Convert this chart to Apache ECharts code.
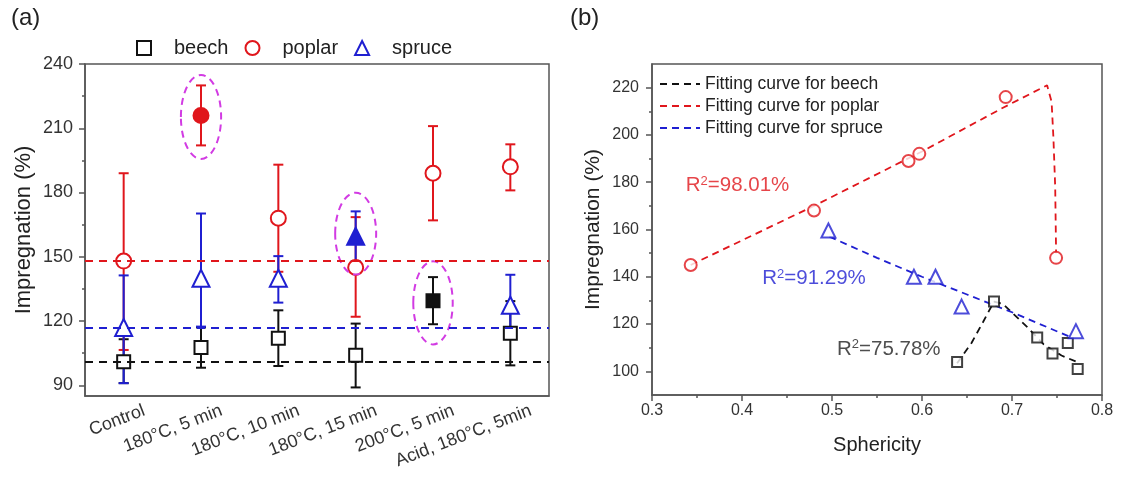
<!DOCTYPE html>
<html>
<head>
<meta charset="utf-8">
<script src="https://cdn.jsdelivr.net/npm/echarts@6/dist/echarts.min.js"></script>
<style>
html, body { margin: 0; padding: 0; background: #fff; }
#chart { width: 1121px; height: 477px; }
</style>
</head>
<body>
<div id="chart"></div>
<script>
// (a) impregnation per treatment
var treatments = ["Control", "180°C, 5 min", "180°C, 10 min", "180°C, 15 min", "200°C, 5 min", "Acid, 180°C, 5min"];
var beechMean = [101, 107.6, 112, 104, 129.5, 114.3];
var beechLow = [91, 98.2, 99, 89, 118.5, 99.3];
var beechHigh = [111.5, 117, 125, 118.8, 140.5, 129.3];
var poplarMean = [148, 216, 168, 145, 189, 192];
var poplarLow = [106.5, 202, 143, 122, 167, 181];
var poplarHigh = [189, 230, 193, 168.5, 211, 202.5];
var spruceMean = [117, 140, 140, 159.6, null, 127.4];
var spruceLow = [91, 117.4, 128.6, 148, null, 113.2];
var spruceHigh = [141.3, 170.2, 150.3, 171.2, null, 141.6];
// highlighted (filled) points
var beechFilled = 4, poplarFilled = 1, spruceFilled = 3;
// ellipses: [category, centre value, half width (bands), half height (%)]
var rings = [[1, 215.3, 0.26, 19.6], [2.98, 160.8, 0.265, 19.1], [4, 128.5, 0.255, 19.4]];
var leftMajor = [90, 120, 150, 180, 210, 240];
var leftMinor = [105, 135, 165, 195, 225];

// (b) impregnation vs sphericity
var beechSph = [0.773, 0.745, 0.762, 0.639, 0.680, 0.728];
var poplarSph = [0.749, 0.693, 0.480, 0.343, 0.585, 0.597];
var spruceSph = [0.771, 0.591, 0.615, 0.496, null, 0.644];
var beechFit = [[0.639, 103.4], [0.655, 112], [0.668, 121], [0.68, 129.5], [0.69, 128.5], [0.717, 118.7], [0.735, 111.5], [0.755, 106.7], [0.772, 104]];
var poplarFit = [[0.343, 145], [0.48, 170], [0.6, 193], [0.69, 211.5], [0.739, 221], [0.744, 214], [0.746, 199], [0.748, 178], [0.749, 150]];
var spruceFit = [[0.497, 157], [0.55, 148], [0.6, 140], [0.65, 132.5], [0.7, 125], [0.765, 114.5]];
var rightMajor = [100, 120, 140, 160, 180, 200, 220];
var rightMinor = [110, 130, 150, 170, 190, 210];
var r2Labels = [
  { text: "98.01%", at: [0.337, 178.7], color: "#e0161c" },
  { text: "91.29%", at: [0.422, 139.2], color: "#1f1fd1" },
  { text: "75.78%", at: [0.505, 109.5], color: "#222" }
];

var RED = "#e0161c", BLUE = "#1f1fd1", BLACK = "#111";
var AXIS = "#555";
var FONT = "Liberation Sans, Arial, sans-serif";

var myChart = echarts.init(document.getElementById("chart"));

function errData(low, high) {
  var out = [];
  low.forEach(function (v, i) {
    if (v == null) return;
    out.push([i, v, high[i]]);
  });
  return out;
}

function pts(mean, filled, color) {
  var out = [];
  mean.forEach(function (v, i) {
    if (v == null) return;
    var d = { value: [i, v] };
    if (i === filled) d.itemStyle = { color: color };
    out.push(d);
  });
  return out;
}

function sphPts(sph, mean) {
  var out = [];
  sph.forEach(function (x, i) {
    if (x == null) return;
    out.push([x, mean[i]]);
  });
  return out;
}

function errorBar(color) {
  return function (params, api) {
    var lo = api.coord([api.value(0), api.value(1)]);
    var hi = api.coord([api.value(0), api.value(2)]);
    var w = 5;
    var st = { stroke: color, lineWidth: 2 };
    return {
      type: "group",
      children: [
        { type: "line", shape: { x1: hi[0], y1: hi[1], x2: lo[0], y2: lo[1] }, style: st },
        { type: "line", shape: { x1: hi[0] - w, y1: hi[1], x2: hi[0] + w, y2: hi[1] }, style: st },
        { type: "line", shape: { x1: lo[0] - w, y1: lo[1], x2: lo[0] + w, y2: lo[1] }, style: st }
      ]
    };
  };
}

function errSeries(name, low, high, color) {
  return {
    name: name,
    type: "custom",
    xAxisIndex: 0,
    yAxisIndex: 0,
    renderItem: errorBar(color),
    encode: { x: 0, y: [1, 2] },
    data: errData(low, high),
    silent: true,
    z: 2
  };
}

function markerSeries(name, symbol, size, data, color, meanLine) {
  var s = {
    name: name,
    type: "scatter",
    xAxisIndex: 0,
    yAxisIndex: 0,
    symbol: symbol,
    symbolSize: size,
    itemStyle: { color: "#fff", borderColor: color, borderWidth: 2, opacity: 1 },
    data: data,
    z: 3
  };
  if (meanLine != null) {
    s.markLine = {
      silent: true,
      symbol: "none",
      label: { show: false },
      lineStyle: { color: color, type: [8, 6], width: 2 },
      data: [{ yAxis: meanLine }]
    };
  }
  return s;
}

var series = [
  errSeries("beech-err", beechLow, beechHigh, BLACK),
  markerSeries("beech", "rect", 13, pts(beechMean, beechFilled, BLACK), BLACK, beechMean[0]),
  errSeries("poplar-err", poplarLow, poplarHigh, RED),
  markerSeries("poplar", "circle", 15, pts(poplarMean, poplarFilled, RED), RED, poplarMean[0]),
  errSeries("spruce-err", spruceLow, spruceHigh, BLUE),
  markerSeries("spruce", "triangle", 17, pts(spruceMean, spruceFilled, BLUE), BLUE, spruceMean[0]),
  {
    name: "rings",
    type: "custom",
    xAxisIndex: 0,
    yAxisIndex: 0,
    silent: true,
    z: 4,
    encode: { x: 0, y: 1 },
    data: rings,
    renderItem: function (params, api) {
      var c = api.coord([api.value(0), api.value(1)]);
      var bw = api.size([1, 0])[0];
      var ry = api.size([0, api.value(3)])[1];
      return {
        type: "ellipse",
        shape: { cx: c[0], cy: c[1], rx: bw * api.value(2), ry: ry },
        style: { fill: "none", stroke: "#d23be3", lineWidth: 2, lineDash: [7, 5] }
      };
    }
  },
  // (b)
  {
    name: "Fitting curve for beech", type: "line", xAxisIndex: 1, yAxisIndex: 2,
    symbol: "none", data: beechFit, lineStyle: { color: BLACK, type: [7, 5], width: 1.8 }, itemStyle: { color: BLACK }, z: 2
  },
  {
    name: "Fitting curve for poplar", type: "line", xAxisIndex: 1, yAxisIndex: 2,
    symbol: "none", data: poplarFit, lineStyle: { color: RED, type: [7, 5], width: 1.8 }, itemStyle: { color: RED }, z: 2
  },
  {
    name: "Fitting curve for spruce", type: "line", xAxisIndex: 1, yAxisIndex: 2,
    symbol: "none", data: spruceFit, lineStyle: { color: BLUE, type: [7, 5], width: 1.8 }, itemStyle: { color: BLUE }, z: 2
  },
  {
    name: "beech-b", type: "scatter", xAxisIndex: 1, yAxisIndex: 2, symbol: "rect", symbolSize: 10,
    itemStyle: { color: "#fff", borderColor: BLACK, borderWidth: 2 }, data: sphPts(beechSph, beechMean), z: 3
  },
  {
    name: "poplar-b", type: "scatter", xAxisIndex: 1, yAxisIndex: 2, symbol: "circle", symbolSize: 12,
    itemStyle: { color: "#fff", borderColor: RED, borderWidth: 2 }, data: sphPts(poplarSph, poplarMean), z: 3
  },
  {
    name: "spruce-b", type: "scatter", xAxisIndex: 1, yAxisIndex: 2, symbol: "triangle", symbolSize: 14,
    itemStyle: { color: "#fff", borderColor: BLUE, borderWidth: 2 }, data: sphPts(spruceSph, spruceMean), z: 3
  }
];

r2Labels.forEach(function (r) {
  series.push({
    name: "r2-" + r.text, type: "scatter", xAxisIndex: 1, yAxisIndex: 2,
    symbolSize: 1, itemStyle: { color: "rgba(0,0,0,0)" }, silent: true, z: 5,
    data: [r.at],
    label: {
      show: true, position: "right", distance: 0,
      formatter: "{r|R}{s|2}{r|=" + r.text + "}",
      rich: {
        r: { fontSize: 20.5, color: r.color, fontFamily: FONT },
        s: { fontSize: 13, color: r.color, fontFamily: FONT, lineHeight: 10, verticalAlign: "top" }
      }
    }
  });
});

var tickLabel = { color: "#333", fontSize: 16, fontFamily: FONT };
var tickLabelA = { color: "#333", fontSize: 18, fontFamily: FONT };

var option = {
  animation: false,
  textStyle: { fontFamily: FONT },
  title: [
    { text: "(a)", left: 6, top: 1, textStyle: { fontSize: 24, fontWeight: "normal", color: "#222", fontFamily: FONT } },
    { text: "(b)", left: 565, top: 1, textStyle: { fontSize: 24, fontWeight: "normal", color: "#222", fontFamily: FONT } }
  ],
  legend: [
    {
      data: [{ name: "beech", icon: "rect" }, { name: "poplar", icon: "circle" }, { name: "spruce", icon: "triangle" }],
      left: 131, top: 33, itemWidth: 14, itemHeight: 14, itemGap: 16,
      textStyle: { fontSize: 20, color: "#222", padding: [0, 0, 0, 18], fontFamily: FONT }
    },
    {
      data: ["Fitting curve for beech", "Fitting curve for poplar", "Fitting curve for spruce"],
      orient: "vertical", left: 654, top: 70, itemWidth: 40, itemHeight: 14, itemGap: 4,
      itemStyle: { color: "rgba(0,0,0,0)", borderColor: "rgba(0,0,0,0)", borderWidth: 0, opacity: 0 },
      textStyle: { fontSize: 17.5, color: "#222", fontFamily: FONT }
    }
  ],
  grid: [
    { left: 85, top: 64, width: 464, height: 332, show: true, borderColor: AXIS, borderWidth: 1.5 },
    { left: 652, top: 64, width: 450, height: 331, show: true, borderColor: AXIS, borderWidth: 1.5 }
  ],
  xAxis: [
    {
      gridIndex: 0, type: "category", data: treatments, boundaryGap: true,
      axisLine: { lineStyle: { color: AXIS, width: 1.5 } },
      axisTick: { alignWithLabel: true, length: 6, lineStyle: { color: AXIS, width: 1.5 } },
      axisLabel: Object.assign({ interval: 0, rotate: 21, margin: 22, padding: [0, -22, 0, 0] }, tickLabelA),
      splitLine: { show: false }
    },
    {
      gridIndex: 1, type: "value", min: 0.3, max: 0.8, interval: 0.1,
      name: "Sphericity", nameLocation: "middle", nameGap: 40,
      nameTextStyle: { fontSize: 20, color: "#222", fontFamily: FONT },
      axisLine: { lineStyle: { color: AXIS, width: 1.5 } },
      axisTick: { length: 6, lineStyle: { color: AXIS, width: 1.5 } },
      minorTick: { show: true, splitNumber: 2, length: 3, lineStyle: { color: AXIS, width: 1.5 } },
      axisLabel: Object.assign({ margin: 8 }, tickLabel),
      splitLine: { show: false }
    }
  ],
  yAxis: [
    {
      gridIndex: 0, type: "value", min: 85, max: 240, position: "left",
      name: "Impregnation (%)", nameLocation: "middle", nameGap: 50,
      nameTextStyle: { fontSize: 22, color: "#222", fontFamily: FONT },
      axisLine: { show: true, lineStyle: { color: AXIS, width: 1.5 } },
      axisTick: { show: true, length: 6, customValues: leftMajor, lineStyle: { color: AXIS, width: 1.5 } },
      axisLabel: Object.assign({ customValues: leftMajor, margin: 12 }, tickLabelA),
      splitLine: { show: false }
    },
    {
      gridIndex: 0, type: "value", min: 85, max: 240, position: "left",
      axisLine: { show: false },
      axisTick: { show: true, length: 3, customValues: leftMinor, lineStyle: { color: AXIS, width: 1.5 } },
      axisLabel: { show: false },
      splitLine: { show: false }
    },
    {
      gridIndex: 1, type: "value", min: 90, max: 230, position: "left",
      name: "Impregnation (%)", nameLocation: "middle", nameGap: 48,
      nameTextStyle: { fontSize: 21, color: "#222", fontFamily: FONT },
      axisLine: { show: true, lineStyle: { color: AXIS, width: 1.5 } },
      axisTick: { show: true, length: 6, customValues: rightMajor, lineStyle: { color: AXIS, width: 1.5 } },
      axisLabel: Object.assign({ customValues: rightMajor, margin: 13 }, tickLabel),
      splitLine: { show: false }
    },
    {
      gridIndex: 1, type: "value", min: 90, max: 230, position: "left",
      axisLine: { show: false },
      axisTick: { show: true, length: 3, customValues: rightMinor, lineStyle: { color: AXIS, width: 1.5 } },
      axisLabel: { show: false },
      splitLine: { show: false }
    }
  ],
  series: series
};

myChart.setOption(option);
</script>
</body>
</html>
